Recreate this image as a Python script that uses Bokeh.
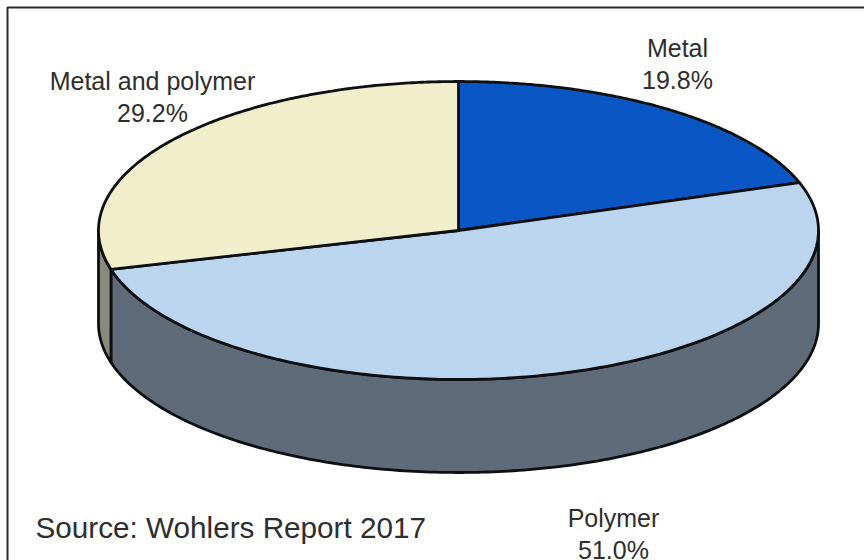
import numpy as np
from bokeh.embed import file_html
from bokeh.models import Range1d
from bokeh.plotting import figure
from bokeh.resources import INLINE
from bokeh.core.properties import value

categories = ["Metal", "Polymer", "Metal and polymer"]
shares = [19.8, 51.0, 29.2]
top_colors = ["#0a56c4", "#bcd5ee", "#f1eecb"]
side_colors = ["#44597c", "#5f6b78", "#8a8a7c"]
label_anchor = [(677, 47, 79), (613, 517, 549), (152, 80, 112)]
source_note = "Source: Wohlers Report 2017"

W, H = 864, 560
CX, CY, RX, RY, DEPTH = 458, 230, 360, 149, 93
OUTLINE = "#0d0f12"
FONT = value("Liberation Sans")
LABEL_SIZE = "25px"
NOTE_SIZE = "29.7px"

p = figure(width=W, height=H, output_backend="svg", toolbar_location=None,
           x_range=Range1d(0, W), y_range=Range1d(H, 0), min_border=0)
p.axis.visible = False
p.grid.visible = False
p.outline_line_color = None
p.background_fill_color = "white"


def rim(a0, a1, n=200):
    # Points on the top ellipse, angles in degrees clockwise from twelve o'clock.
    t = np.radians(np.linspace(a0, a1, n))
    return CX + RX * np.sin(t), CY - RY * np.cos(t)


# Chart frame: only the top and left edges fall inside the page.
p.line([7, 7, W], [H, 7, 7], line_color="#2a2a2a", line_width=2)

edges = np.concatenate([[0], np.cumsum(shares)]) * 3.6

# Outer wall, visible where the rim faces the viewer (between 90 and 270 degrees).
for i in range(len(shares)):
    a0, a1 = max(edges[i], 90), min(edges[i + 1], 270)
    if a0 >= a1:
        continue
    x, y = rim(a0, a1)
    p.patch(np.concatenate([x, x[::-1]]), np.concatenate([y, y[::-1] + DEPTH]),
            fill_color=side_colors[i], line_color=OUTLINE, line_width=2.8,
            line_join="round")

# Top faces.
for i in range(len(shares)):
    x, y = rim(edges[i], edges[i + 1])
    p.patch(np.concatenate([[CX], x]), np.concatenate([[CY], y]),
            fill_color=top_colors[i], line_color=OUTLINE, line_width=2.8,
            line_join="round")

# Labels with their percentages.
for name, share, (lx, y1, y2) in zip(categories, shares, label_anchor):
    p.text([lx], [y1], text=[name], text_font=FONT, text_font_size=LABEL_SIZE,
           text_color="#2e2e2e", text_align="center", text_baseline="middle")
    p.text([lx], [y2], text=[f"{share:.1f}%"], text_font=FONT, text_font_size=LABEL_SIZE,
           text_color="#2e2e2e", text_align="center", text_baseline="middle")

p.text([35], [527], text=[source_note], text_font=FONT, text_font_size=NOTE_SIZE,
       text_color="#2e2e2e", text_align="left", text_baseline="middle")

open("out.html", "w").write(file_html(p, INLINE))
